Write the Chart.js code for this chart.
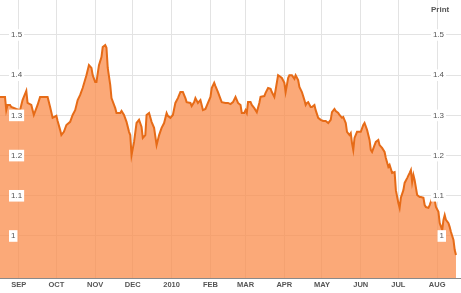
<!DOCTYPE html>
<html>
<head>
<meta charset="utf-8">
<script src="https://cdn.jsdelivr.net/npm/chart.js@4/dist/chart.umd.min.js"></script>
<style>
  html, body { margin: 0; padding: 0; background: #ffffff; }
  #wrap { position: relative; width: 461px; height: 293px; }
  #print { position: absolute; left: 431px; top: 5px; font: bold 8px "Liberation Sans", Arial, sans-serif; color: #555; }
</style>
</head>
<body>
<div id="wrap">
  <canvas id="c" width="461" height="293"></canvas>
  <div id="print">Print</div>
</div>
<script>
// ---- data ----
const dates = [
'2009-08-17','2009-08-21','2009-08-22','2009-08-23','2009-08-25','2009-08-26','2009-08-30','2009-09-02','2009-09-04','2009-09-07',
'2009-09-08','2009-09-11','2009-09-13','2009-09-16','2009-09-18','2009-09-22','2009-09-24','2009-09-26','2009-09-28','2009-10-01',
'2009-10-02','2009-10-04','2009-10-05','2009-10-07','2009-10-09','2009-10-12','2009-10-14','2009-10-16','2009-10-18','2009-10-20',
'2009-10-22','2009-10-25','2009-10-27','2009-10-29','2009-10-30','2009-11-01','2009-11-02','2009-11-04','2009-11-06','2009-11-07',
'2009-11-09','2009-11-10','2009-11-11','2009-11-13','2009-11-14','2009-11-17','2009-11-18','2009-11-21','2009-11-22','2009-11-24',
'2009-11-26','2009-11-28','2009-11-29','2009-11-30','2009-12-02','2009-12-04','2009-12-06','2009-12-08','2009-12-09','2009-12-11',
'2009-12-12','2009-12-14','2009-12-16','2009-12-18','2009-12-20','2009-12-22','2009-12-24','2009-12-26','2009-12-28','2009-12-29',
'2009-12-31','2010-01-02','2010-01-04','2010-01-06','2010-01-08','2010-01-10','2010-01-12','2010-01-13','2010-01-16','2010-01-17',
'2010-01-19','2010-01-20','2010-01-22','2010-01-24','2010-01-25','2010-01-26','2010-01-28','2010-01-30','2010-02-01','2010-02-02',
'2010-02-04','2010-02-05','2010-02-07','2010-02-09','2010-02-10','2010-02-13','2010-02-15','2010-02-17','2010-02-19','2010-02-21',
'2010-02-23','2010-02-25','2010-02-26','2010-02-28','2010-03-01','2010-03-02','2010-03-03','2010-03-05','2010-03-06','2010-03-08',
'2010-03-10','2010-03-12','2010-03-13','2010-03-16','2010-03-17','2010-03-19','2010-03-21','2010-03-22','2010-03-24','2010-03-25',
'2010-03-27','2010-03-28','2010-03-30','2010-04-01','2010-04-02','2010-04-04','2010-04-05','2010-04-07','2010-04-09','2010-04-10',
'2010-04-12','2010-04-13','2010-04-15','2010-04-17','2010-04-18','2010-04-19','2010-04-20','2010-04-22','2010-04-23','2010-04-25',
'2010-04-26','2010-04-28','2010-04-30','2010-05-02','2010-05-04','2010-05-06','2010-05-08','2010-05-09','2010-05-11','2010-05-12',
'2010-05-14','2010-05-15','2010-05-17','2010-05-18','2010-05-20','2010-05-21','2010-05-23','2010-05-24','2010-05-25','2010-05-26',
'2010-05-27','2010-05-29','2010-05-31','2010-06-01','2010-06-03','2010-06-04','2010-06-06','2010-06-08','2010-06-09','2010-06-10',
'2010-06-12','2010-06-13','2010-06-15','2010-06-16','2010-06-18','2010-06-20','2010-06-21','2010-06-23','2010-06-24','2010-06-26',
'2010-06-28','2010-06-29','2010-07-01','2010-07-02','2010-07-03','2010-07-05','2010-07-06','2010-07-08','2010-07-10','2010-07-11',
'2010-07-12','2010-07-13','2010-07-14','2010-07-16','2010-07-18','2010-07-19','2010-07-21','2010-07-22','2010-07-23','2010-07-25',
'2010-07-26','2010-07-28','2010-07-30','2010-07-31','2010-08-02','2010-08-03','2010-08-05','2010-08-06','2010-08-07','2010-08-08',
'2010-08-10','2010-08-11','2010-08-12','2010-08-14','2010-08-15','2010-08-16'
];
const rate = [
1.346,1.346,1.313,1.326,1.326,1.321,1.316,1.313,1.338,1.361,
1.331,1.326,1.301,1.326,1.346,1.346,1.346,1.321,1.294,1.299,
1.286,1.264,1.251,1.259,1.276,1.284,1.301,1.313,1.338,1.351,
1.368,1.400,1.425,1.418,1.400,1.383,1.383,1.425,1.445,1.470,
1.475,1.468,1.418,1.376,1.343,1.318,1.306,1.306,1.311,1.301,
1.284,1.259,1.251,1.201,1.234,1.281,1.289,1.271,1.244,1.251,
1.301,1.306,1.284,1.269,1.226,1.251,1.269,1.281,1.306,1.299,
1.294,1.301,1.331,1.343,1.358,1.358,1.343,1.333,1.331,1.323,
1.333,1.343,1.331,1.338,1.326,1.313,1.316,1.331,1.346,1.368,
1.381,1.373,1.358,1.341,1.333,1.331,1.331,1.328,1.333,1.346,
1.331,1.326,1.306,1.306,1.313,1.306,1.333,1.333,1.326,1.318,
1.308,1.331,1.346,1.348,1.356,1.368,1.366,1.358,1.346,1.363,
1.400,1.398,1.393,1.381,1.358,1.393,1.400,1.400,1.391,1.400,
1.388,1.371,1.358,1.338,1.326,1.331,1.333,1.321,1.321,1.326,
1.313,1.294,1.289,1.286,1.286,1.281,1.289,1.308,1.316,1.311,
1.306,1.301,1.294,1.296,1.281,1.259,1.251,1.256,1.231,1.214,
1.244,1.259,1.259,1.259,1.276,1.281,1.264,1.239,1.214,1.209,
1.226,1.234,1.239,1.226,1.219,1.209,1.194,1.172,1.177,1.157,
1.159,1.114,1.082,1.070,1.095,1.114,1.132,1.144,1.157,1.164,
1.134,1.152,1.139,1.102,1.097,1.097,1.095,1.077,1.072,1.070,
1.077,1.095,1.090,1.072,1.060,1.032,1.015,1.040,1.052,1.040,
1.032,1.022,1.010,0.990,0.965,0.953
];
const monthTicks = ['2009-09-01','2009-10-01','2009-11-01','2009-12-01','2010-01-01','2010-02-01','2010-03-01','2010-04-01','2010-05-01','2010-06-01','2010-07-01','2010-08-01'];
const monthLabels = ['SEP','OCT','NOV','DEC','2010','FEB','MAR','APR','MAY','JUN','JUL','AUG'];
const yTicks = [1.0, 1.1, 1.2, 1.3, 1.4, 1.5];
const xStart = '2009-08-17';
const xEnd = '2010-08-20';
const yMin = 0.8955;
const yMax = 1.587;

// ---- helpers ----
const base = Date.parse('2009-09-01');
const dayOf = s => Math.round((Date.parse(s) - base) / 86400000);
const monthDays = monthTicks.map(dayOf);
const points = dates.map((d, i) => ({ x: dayOf(d), y: rate[i] }));

const FONT = '"Liberation Sans", Arial, sans-serif';

const yFit = s => { s.width = 0; s.paddingTop = 0; s.paddingBottom = 0; s.paddingLeft = 0; s.paddingRight = 0; };

const yCommon = {
  type: 'linear',
  min: yMin,
  max: yMax,
  afterBuildTicks: s => { s.ticks = yTicks.map(v => ({ value: v })); },
  afterFit: yFit,
  border: { display: false },
  ticks: {
    mirror: true,
    z: 1,
    color: '#555',
    font: { family: FONT, size: 8 },
    showLabelBackdrop: true,
    backdropColor: '#ffffff',
    backdropPadding: { top: 1, bottom: 1, left: 2, right: 2 },
    callback: v => (Math.round(v * 10) / 10).toString()
  }
};

new Chart(document.getElementById('c'), {
  type: 'line',
  data: {
    datasets: [{
      data: points,
      borderColor: '#e66b17',
      borderWidth: 2,
      backgroundColor: 'rgba(249,140,75,0.75)',
      fill: 'start',
      pointRadius: 0,
      tension: 0
    }]
  },
  options: {
    responsive: false,
    animation: false,
    layout: { padding: 0 },
    plugins: { legend: { display: false }, tooltip: { enabled: false } },
    scales: {
      x: {
        type: 'linear',
        min: dayOf(xStart),
        max: dayOf(xEnd),
        afterBuildTicks: s => { s.ticks = monthDays.map(v => ({ value: v })); },
        afterFit: s => { s.height = 15; s.paddingLeft = 0; s.paddingRight = 0; },
        grid: { color: '#e3e3e3', drawTicks: false },
        border: { display: true, color: '#8a8a8a', width: 1 },
        ticks: {
          autoSkip: false,
          maxRotation: 0,
          padding: 2,
          color: '#555',
          font: { family: FONT, size: 7.5, weight: 'bold' },
          callback: v => monthLabels[monthDays.indexOf(v)]
        }
      },
      y: Object.assign({}, yCommon, {
        position: 'left',
        grid: { color: '#e3e3e3', drawTicks: false },
        ticks: Object.assign({}, yCommon.ticks, { padding: 11 })
      }),
      y2: Object.assign({}, yCommon, {
        position: 'right',
        grid: { display: false, drawTicks: false },
        ticks: Object.assign({}, yCommon.ticks, { padding: -17 })
      })
    }
  }
});
</script>
</body>
</html>
